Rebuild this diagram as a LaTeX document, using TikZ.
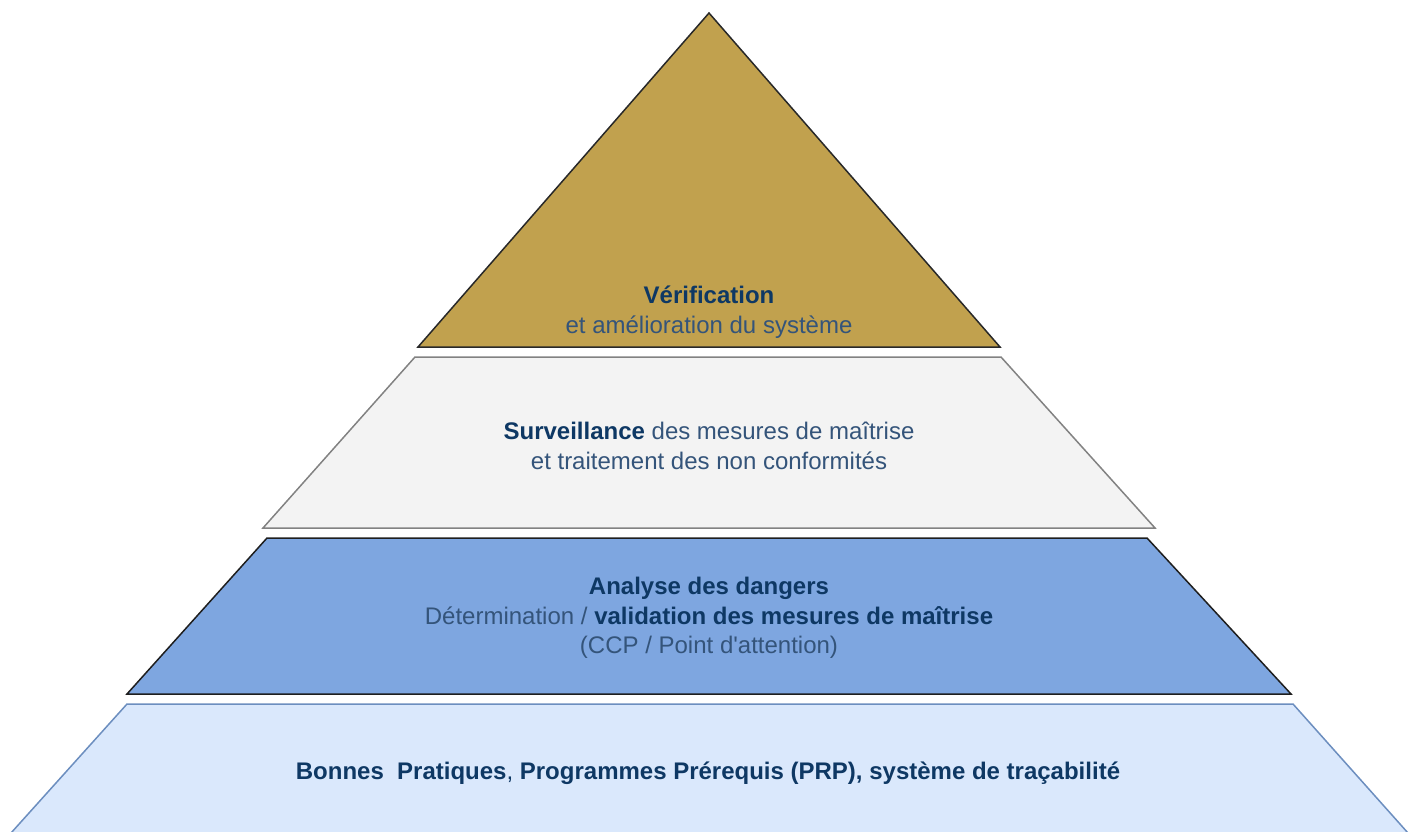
\documentclass[tikz,border=0pt]{standalone}
\usepackage{fontspec}
\setmainfont{Liberation Sans}[Ligatures=TeXOff]
\definecolor{gold}{RGB}{193,161,78}
\definecolor{goldline}{RGB}{40,40,40}
\definecolor{grayfill}{RGB}{243,243,243}
\definecolor{grayline}{RGB}{130,130,130}
\definecolor{bluefill}{RGB}{126,166,224}
\definecolor{blueline}{RGB}{30,30,30}
\definecolor{lightfill}{RGB}{218,232,252}
\definecolor{lightline}{RGB}{108,142,191}
\definecolor{txtbold}{RGB}{14,56,100}
\definecolor{txtreg}{RGB}{52,84,122}
\tikzset{
  layer/.style={line width=1.5pt, line join=miter},
  lbl/.style={align=center, font=\fontsize{24}{29.5}\selectfont, text=txtreg, inner sep=0pt},
}
\begin{document}
\begin{tikzpicture}[x=1pt,y=-1pt]
\useasboundingbox (0,0) rectangle (1419,831);
\draw[layer, fill=gold, draw=goldline] (709,13) -- (1000,347) -- (418,347) -- cycle;
\draw[layer, fill=grayfill, draw=grayline] (415,357) -- (1001,357) -- (1155,528) -- (263,528) -- cycle;
\draw[layer, fill=bluefill, draw=blueline] (267,538) -- (1147,538) -- (1291,694) -- (127,694) -- cycle;
\fill[lightfill] (127,704) -- (1293,704) -- (1408,833) -- (11,833) -- cycle;
\draw[layer, draw=lightline] (11,833) -- (127,704) -- (1293,704) -- (1408,833);
\node[lbl] (t1) at (709,312) {\textcolor{txtbold}{\textbf{Vérification}}\\et amélioration du système};
\node[lbl] (t2) at (709,446) {\textcolor{txtbold}{\textbf{Surveillance}} des mesures de maîtrise\\et traitement des non conformités};
\node[lbl] (t3) at (709,618) {\textcolor{txtbold}{\textbf{Analyse des dangers}}\\Détermination / \textcolor{txtbold}{\textbf{validation des mesures de maîtrise}}\\(CCP / Point d'attention)};
\node[lbl, text=txtbold] (t4) at (708,773) {\textbf{Bonnes\ \ Pratiques}, \textbf{Programmes Prérequis (PRP), système de traçabilité}};
\end{tikzpicture}
\end{document}
